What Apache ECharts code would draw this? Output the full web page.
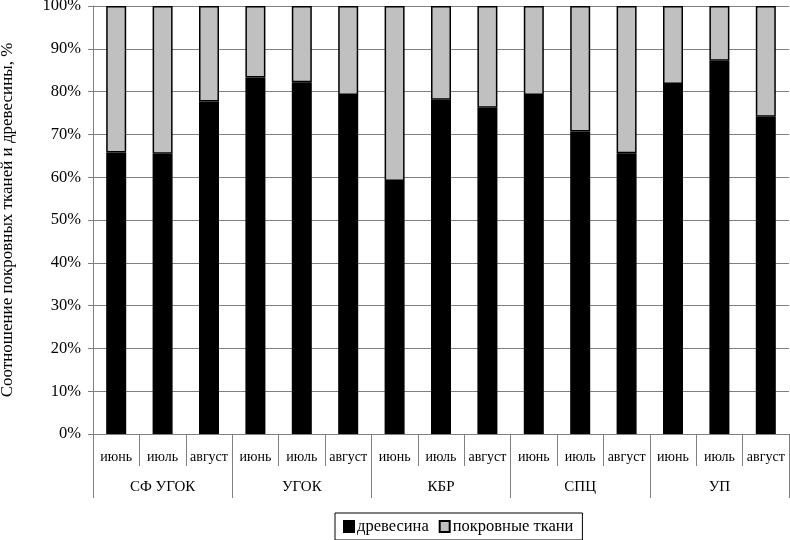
<!DOCTYPE html>
<html>
<head>
<meta charset="utf-8">
<script src="https://cdn.jsdelivr.net/npm/echarts@6/dist/echarts.min.js"></script>
<style>
html, body { margin: 0; padding: 0; background: #fff; }
#Chart { width: 790px; height: 540px; }
</style>
</head>
<body>
<div id="Chart"></div>
<script>
var months = ['июнь', 'июль', 'август', 'июнь', 'июль', 'август', 'июнь', 'июль', 'август',
              'июнь', 'июль', 'август', 'июнь', 'июль', 'август'];
var groups = ['СФ УГОК', 'УГОК', 'КБР', 'СПЦ', 'УП'];
var wood = [65.8, 65.5, 77.7, 83.3, 82.2, 79.2, 59.1, 78.1, 76.2, 79.2, 70.7, 65.6, 81.8, 87.2, 74.1];
var bark = wood.map(function (v) { return +(100 - v).toFixed(1); });
var yTicks = [0, 10, 20, 30, 40, 50, 60, 70, 80, 90, 100];

var lineColor = '#808080';
var font = '"Liberation Serif", "DejaVu Serif", serif';

var Chart = function () {
    var myChart = echarts.init(document.getElementById('Chart'));
    var option = {
        animation: false,
        textStyle: { fontFamily: font },
        grid: {
            left: 93,
            right: 1,
            top: 6,
            bottom: 106,
            outerBoundsMode: 'none',
            containLabel: false
        },
        legend: {
            left: 335,
            top: 513,
            padding: [5, 9, 5, 8],
            borderColor: '#000',
            borderWidth: 1,
            itemWidth: 10,
            itemHeight: 11,
            itemGap: 10,
            icon: 'rect',
            textStyle: { fontFamily: font, fontSize: 16.5, color: '#000', padding: [0, 0, 0, -2] },
            data: ['древесина', 'покровные ткани']
        },
        xAxis: [
            {
                type: 'category',
                data: months,
                position: 'bottom',
                axisLine: { show: true, lineStyle: { color: lineColor } },
                axisTick: { show: true, interval: 0, length: 32, lineStyle: { color: lineColor } },
                axisLabel: { interval: 0, margin: 16, fontSize: 14, color: '#000', fontFamily: font }
            },
            {
                type: 'category',
                data: groups,
                position: 'bottom',
                offset: 0,
                axisLine: { show: false },
                axisTick: { show: true, interval: 0, length: 64, lineStyle: { color: lineColor } },
                axisLabel: { interval: 0, margin: 46, fontSize: 15, color: '#000', fontFamily: font }
            }
        ],
        yAxis: {
            type: 'value',
            min: 0,
            max: 100,
            interval: 10,
            name: 'Соотношение покровных тканей и древесины, %',
            nameLocation: 'middle',
            nameGap: 77,
            nameTextStyle: { fontFamily: font, fontSize: 17, color: '#000' },
            axisLine: { show: true, lineStyle: { color: lineColor } },
            axisTick: { show: true, length: 5, lineStyle: { color: lineColor } },
            axisLabel: {
                margin: 12,
                fontSize: 16.5,
                color: '#000',
                fontFamily: font,
                formatter: function (v) { return yTicks.indexOf(v) >= 0 ? v + '%' : ''; }
            },
            splitLine: { show: true, lineStyle: { color: lineColor, width: 1 } }
        },
        series: [
            {
                name: 'древесина',
                type: 'bar',
                stack: 'total',
                barWidth: 20,
                itemStyle: { color: '#000', borderColor: '#000', borderWidth: 1.5 },
                data: wood
            },
            {
                name: 'покровные ткани',
                type: 'bar',
                stack: 'total',
                barWidth: 20,
                itemStyle: { color: '#c0c0c0', borderColor: '#000', borderWidth: 1.5 },
                data: bark
            }
        ]
    };
    myChart.setOption(option);
};

Chart();
</script>
</body>
</html>
